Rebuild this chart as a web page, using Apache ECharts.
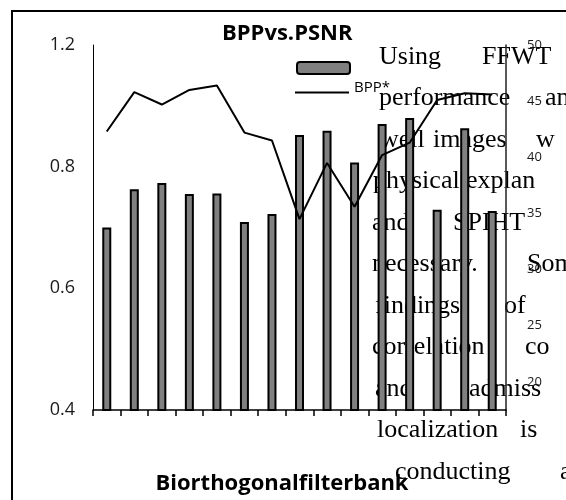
<!DOCTYPE html>
<html>
<head>
<meta charset="utf-8">
<script src="https://cdn.jsdelivr.net/npm/echarts@6/dist/echarts.min.js"></script>
<style>
  html, body { margin: 0; padding: 0; background: #fff; }
  #chart { width: 566px; height: 500px; }
</style>
</head>
<body>
<div id="chart"></div>
<script>
// 15 filter banks along the x axis (no tick labels in the figure)
const filters = ["1", "2", "3", "4", "5", "6", "7", "8", "9", "10", "11", "12", "13", "14", "15"];
// bars, left axis
const bpp = [0.70, 0.763, 0.773, 0.755, 0.756, 0.709, 0.722, 0.852, 0.859, 0.807, 0.87, 0.88, 0.729, 0.863, 0.727];
// line, right axis
const psnr = [42.3, 45.8, 44.7, 46.0, 46.4, 42.2, 41.5, 34.5, 39.5, 35.6, 40.2, 41.3, 45.1, 45.7, 45.6];
// left tick labels as printed (top one reads 1.2)
const leftTicks = ["0.4", "0.6", "0.8", "1.2"];
const rightTicks = [20, 25, 30, 35, 40, 45, 50];

// body text of the page that runs over the figure
const bodyLines = [
  [["Using", 379], ["FFWT", 482]],
  [["performance", 379], ["an", 545]],
  [["well", 380], ["images", 433], ["w", 536]],
  [["physical", 373], ["explan", 466]],
  [["and", 372], ["SPIHT", 453]],
  [["necessary.", 372], ["Som", 527]],
  [["findings", 375], ["of", 504]],
  [["correlation", 372], ["co", 525]],
  [["and", 375], ["admiss", 469]],
  [["localization", 377], ["is", 520]],
  [["conducting", 395], ["a", 560]],
];

const textEls = [];
bodyLines.forEach((line, i) => {
  line.forEach(([word, x]) => {
    textEls.push({
      type: "text",
      x: x,
      y: 57 + 41.5 * i,
      z: -10,
      style: {
        text: word,
        fontFamily: "Liberation Serif",
        fontSize: 26,
        fill: "#000",
        verticalAlign: "middle",
      },
    });
  });
});

const chart = echarts.init(document.getElementById("chart"));

chart.setOption({
  backgroundColor: "#fff",
  animation: false,
  title: {
    text: "BPPvs.PSNR",
    left: 222,
    top: 23,
    padding: 0,
    textStyle: { fontFamily: "Open Sans", fontWeight: "bold", fontSize: 22, color: "#000" },
  },
  legend: [
    {
      data: ["BPP"],
      left: 296,
      top: 61,
      padding: 0,
      itemWidth: 53,
      itemHeight: 12,
      formatter: () => "",
      itemStyle: { color: "#808080", borderColor: "#000", borderWidth: 2 },
      selectedMode: false,
    },
    {
      data: [{ name: "BPP*", icon: "rect" }],
      left: 295,
      top: 80,
      padding: 0,
      itemWidth: 54,
      itemHeight: 2,
      itemGap: 0,
      selectedMode: false,
      itemStyle: { color: "#000", borderWidth: 0 },
      formatter: (name) => `{t|${name}}\n{s| }`,
      textStyle: {
        color: "#000",
        rich: {
          t: { fontFamily: "Open Sans", fontSize: 15, lineHeight: 20, color: "#000" },
          s: { fontSize: 8, lineHeight: 10 },
        },
      },
    },
  ],
  grid: { left: 93, right: 60, top: 45, bottom: 90 },
  xAxis: {
    type: "category",
    data: filters,
    name: "Biorthogonalfilterbank",
    nameLocation: "middle",
    nameGap: 63,
    nameTextStyle: {
      fontFamily: "Open Sans",
      fontWeight: "bold",
      fontSize: 22,
      color: "#000",
      padding: [0, 35, 0, 0],
    },
    axisLine: { lineStyle: { color: "#000", width: 1.5 } },
    axisTick: { show: true, alignWithLabel: false, length: 6, lineStyle: { color: "#000", width: 1.5 } },
    axisLabel: { show: false },
  },
  yAxis: [
    {
      type: "value",
      min: 0.4,
      max: 1.0,
      interval: 0.2,
      splitLine: { show: false },
      axisLine: { show: true, lineStyle: { color: "#000", width: 1 } },
      axisTick: { show: false },
      axisLabel: {
        margin: 18,
        fontFamily: "Open Sans",
        fontSize: 18,
        color: "#1a1a1a",
        formatter: (v) => leftTicks[Math.round((v - 0.4) / 0.2)] ?? "",
      },
    },
    {
      type: "value",
      min: 17.5,
      max: 50,
      interval: 2.5,
      position: "right",
      splitLine: { show: false },
      axisLine: { show: true, lineStyle: { color: "#222", width: 1.5 } },
      axisTick: { show: false },
      axisLabel: {
        margin: 21,
        fontFamily: "Open Sans",
        fontSize: 13,
        color: "#1a1a1a",
        formatter: (v) => (rightTicks.includes(v) ? String(v) : ""),
      },
    },
  ],
  series: [
    {
      name: "BPP",
      type: "bar",
      data: bpp,
      yAxisIndex: 0,
      barWidth: 9,
      itemStyle: { color: "#808080", borderColor: "#000", borderWidth: 2 },
    },
    {
      name: "BPP*",
      type: "line",
      data: psnr,
      yAxisIndex: 1,
      symbol: "none",
      lineStyle: { color: "#000", width: 2 },
      itemStyle: { color: "#000" },
    },
  ],
  graphic: [
    {
      type: "rect",
      shape: { x: 12, y: 11, width: 570, height: 520 },
      style: { fill: "none", stroke: "#000", lineWidth: 2 },
      z: 100,
      silent: true,
    },
    ...textEls,
  ],
});
</script>
</body>
</html>
